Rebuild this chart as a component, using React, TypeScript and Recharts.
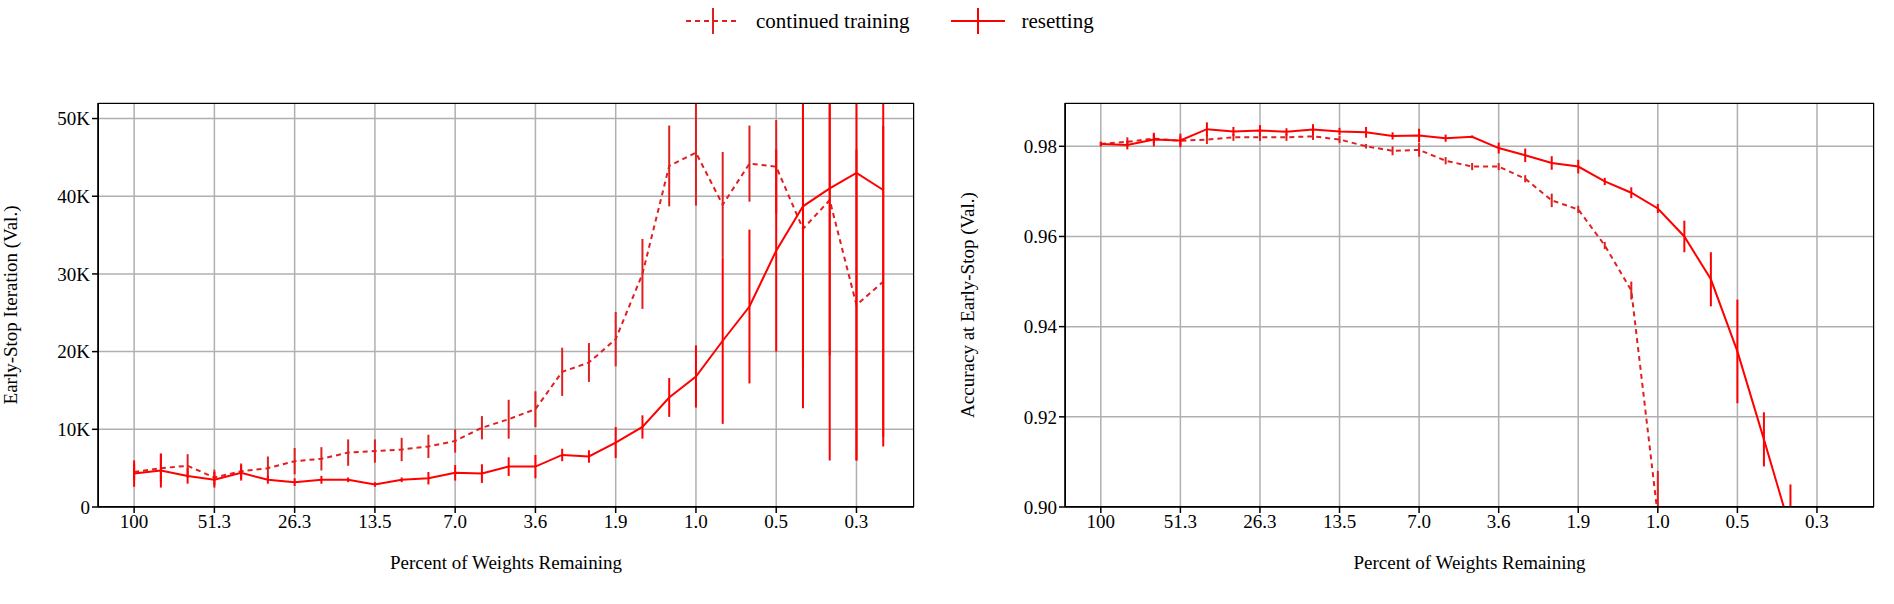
import React from 'react';
import { LineChart, Line, XAxis, YAxis, CartesianGrid, ErrorBar } from 'recharts';

const steps = [0,1,2,3,4,5,6,7,8,9,10,11,12,13,14,15,16,17,18,19,20,21,22,23,24,25,26,27,28];
const tickLabels = ['100','51.3','26.3','13.5','7.0','3.6','1.9','1.0','0.5','0.3'];
const tickPos = [0,3,6,9,12,15,18,21,24,27];

const iterCont = [4500,5000,5300,3800,4600,5000,5900,6200,7000,7200,7400,7800,8500,10200,11300,12600,17400,18600,21600,30000,43900,45600,38900,44200,43800,35800,39500,26000,29000];
const iterContErr = [1000,1800,1500,1000,1000,1500,1700,1500,1700,1500,1500,1500,1500,1500,2500,2300,3100,2500,3500,4500,5200,6800,6800,4900,6000,18000,20000,20000,20000];
const iterReset = [4300,4700,4000,3500,4400,3500,3200,3500,3500,2900,3500,3700,4400,4300,5200,5200,6700,6500,8300,10300,14100,16800,21400,25800,33000,38700,41000,43000,40800];
const iterResetErr = [1700,2200,1000,1000,1000,500,500,500,300,300,300,800,1000,1200,1200,1500,800,800,2000,1500,2500,4000,10700,9900,13000,26000,35000,37000,33000];

const accCont = [0.9805,0.981,0.9817,0.9812,0.9815,0.982,0.982,0.982,0.9822,0.9815,0.98,0.979,0.9792,0.9768,0.9755,0.9755,0.9728,0.968,0.966,0.958,0.948,0.898];
const accContErr = [0.0005,0.001,0.001,0.001,0.001,0.0008,0.0008,0.0008,0.0008,0.0008,0.0005,0.001,0.0015,0.0008,0.0008,0.0008,0.0008,0.0015,0.0008,0.0008,0.002,0.01];
const accReset = [0.9805,0.9803,0.9815,0.9813,0.9838,0.9833,0.9835,0.9832,0.9837,0.9833,0.9831,0.9823,0.9824,0.9818,0.9821,0.9796,0.978,0.9763,0.9755,0.9722,0.9697,0.9662,0.96,0.9505,0.9345,0.915,0.895];
const accResetErr = [0.0005,0.001,0.0015,0.0015,0.0015,0.001,0.0012,0.0008,0.0012,0.0008,0.0012,0.0008,0.0015,0.0008,0.0003,0.0012,0.0015,0.0015,0.0015,0.0008,0.0012,0.001,0.0035,0.006,0.0115,0.006,0.01];

const RED = '#ff0000';
const DRED = '#e02020';
const FONT = 'Liberation Serif, DejaVu Serif, serif';

// clip error bars to the visible y range
const clampErr = (v: number | undefined, e: number | undefined, lo: number, hi: number) => {
  if (v === undefined || e === undefined) return undefined;
  return [Math.min(e, v - lo), Math.min(e, hi - v)];
};

const IT_DOM: [number, number] = [0, 52000];
const AC_DOM: [number, number] = [0.9, 0.9896];

const iterData = steps.map((k, i) => ({
  k,
  cont: iterCont[i], contErr: clampErr(iterCont[i], iterContErr[i], IT_DOM[0], IT_DOM[1]),
  reset: iterReset[i], resetErr: clampErr(iterReset[i], iterResetErr[i], IT_DOM[0], IT_DOM[1]),
}));
const accData = steps.map((k, i) => ({
  k,
  cont: accCont[i], contErr: clampErr(accCont[i], accContErr[i], AC_DOM[0], AC_DOM[1]),
  reset: accReset[i], resetErr: clampErr(accReset[i], accResetErr[i], AC_DOM[0], AC_DOM[1]),
}));

const tickStyle = { fill: '#000', fontSize: 19, fontFamily: FONT };
const fmtX = (v: number) => tickLabels[tickPos.indexOf(v)] ?? '';

function Panel(props: any) {
  const { data, yDomain, yTicks, yFmt, yLabel, margin, yWidth } = props;
  return (
    <LineChart width={947} height={544} data={data} margin={margin}>
      <CartesianGrid stroke="#b0b0b0" strokeWidth={1.5} />
      <XAxis dataKey="k" type="number" domain={[-1.35, 29.15]} ticks={tickPos} allowDataOverflow
        tickFormatter={fmtX} tick={tickStyle} stroke="#000" strokeWidth={1.5} tickSize={6} interval={0}
        label={{ value: 'Percent of Weights Remaining', position: 'insideBottom', offset: -2, style: { fill: '#000', fontSize: 19, fontFamily: FONT } }} height={60} />
      <YAxis type="number" domain={yDomain} ticks={yTicks} allowDataOverflow tickFormatter={yFmt}
        tick={tickStyle} stroke="#000" strokeWidth={1.5} tickSize={6} width={yWidth} interval={0}
        label={{ value: yLabel, angle: -90, position: 'insideLeft', offset: -28, style: { fill: '#000', fontSize: 19, fontFamily: FONT, textAnchor: 'middle' } }} />
      <Line dataKey="cont" stroke={DRED} strokeWidth={2} strokeDasharray="5 4" dot={false} isAnimationActive={false}>
        <ErrorBar dataKey="contErr" width={0} stroke={DRED} strokeWidth={2} direction="y" />
      </Line>
      <Line dataKey="reset" stroke={RED} strokeWidth={2} dot={false} isAnimationActive={false}>
        <ErrorBar dataKey="resetErr" width={0} stroke={RED} strokeWidth={2} direction="y" />
      </Line>
    </LineChart>
  );
}

function LegendItem({ dashed, label }: { dashed: boolean; label: string }) {
  const c = dashed ? DRED : RED;
  return (
    <div style={{ display: 'flex', alignItems: 'center', marginRight: 40 }}>
      <svg width={58} height={30}>
        <line x1={2} y1={15} x2={56} y2={15} stroke={c} strokeWidth={2} strokeDasharray={dashed ? '5 4' : undefined} />
        <line x1={29} y1={2} x2={29} y2={28} stroke={c} strokeWidth={2} />
      </svg>
      <span style={{ marginLeft: 14, fontSize: 21, fontFamily: FONT, color: '#000' }}>{label}</span>
    </div>
  );
}

const frame = (left: number, width: number): React.CSSProperties => ({
  position: 'absolute', left, top: 103, width, height: 404, border: '1.5px solid #000', boxSizing: 'border-box', pointerEvents: 'none',
});

export default function App() {
  return (
    <div style={{ position: 'absolute', left: 0, top: 0, width: 1894, height: 604, background: '#fff' }}>
      <div style={{ position: 'absolute', left: 684, top: 6, display: 'flex' }}>
        <LegendItem dashed label="continued training" />
        <LegendItem dashed={false} label="resetting" />
      </div>
      <div style={{ position: 'absolute', left: 0, top: 60 }}>
        <Panel data={iterData} yDomain={IT_DOM} yTicks={[0, 10000, 20000, 30000, 40000, 50000]}
          yFmt={(v: number) => (v === 0 ? '0' : `${v / 1000}K`)} yLabel="Early-Stop Iteration (Val.)"
          margin={{ top: 43, right: 33, bottom: 37, left: 38 }} yWidth={60} />
      </div>
      <div style={{ position: 'absolute', left: 947, top: 60 }}>
        <Panel data={accData} yDomain={AC_DOM} yTicks={[0.9, 0.92, 0.94, 0.96, 0.98]}
          yFmt={(v: number) => v.toFixed(2)} yLabel="Accuracy at Early-Stop (Val.)"
          margin={{ top: 43, right: 20, bottom: 37, left: 48 }} yWidth={70} />
      </div>
      <div style={frame(98, 816)} />
      <div style={frame(1065, 809)} />
    </div>
  );
}
